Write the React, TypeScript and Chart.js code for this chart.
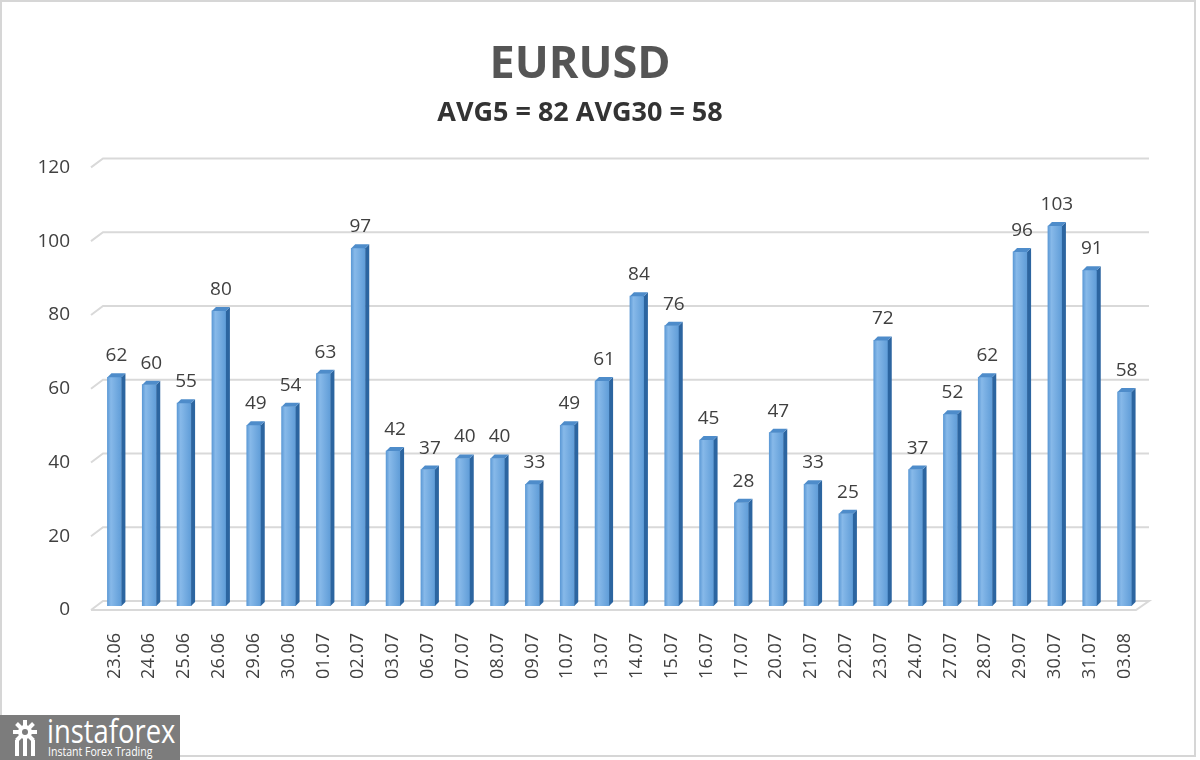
import React, { useEffect, useRef } from "react";
import { Chart, registerables } from "chart.js";

Chart.register(...registerables);

const categories = [
  "23.06", "24.06", "25.06", "26.06", "29.06", "30.06", "01.07", "02.07", "03.07", "06.07",
  "07.07", "08.07", "09.07", "10.07", "13.07", "14.07", "15.07", "16.07", "17.07", "20.07",
  "21.07", "22.07", "23.07", "24.07", "27.07", "28.07", "29.07", "30.07", "31.07", "03.08",
];
const values = [
  62, 60, 55, 80, 49, 54, 63, 97, 42, 37,
  40, 40, 33, 49, 61, 84, 76, 45, 28, 47,
  33, 25, 72, 37, 52, 62, 96, 103, 91, 58,
];
const yTicks = [0, 20, 40, 60, 80, 100, 120];
const titleText = "EURUSD";
const subtitleText = "AVG5 = 82 AVG30 = 58";

const FONT = "'Open Sans', 'DejaVu Sans', sans-serif";
const DEPTH = 4;

const gridPlugin = {
  id: "grid3d",
  beforeDatasetsDraw(chart: any) {
    const { ctx, chartArea } = chart;
    const y = chart.scales.y;
    const left = chartArea.left;
    const right = chartArea.right;
    ctx.save();
    ctx.strokeStyle = "#d9d9d9";
    ctx.lineWidth = 2;
    for (const v of yTicks) {
      const yp = y.getPixelForValue(v);
      ctx.beginPath();
      ctx.moveTo(left - 6, yp + 4);
      ctx.lineTo(left + 6, yp - 5);
      ctx.lineTo(right + 7, yp - 5);
      if (v === 0) {
        ctx.lineTo(right - 6, yp + 4);
        ctx.lineTo(left - 6, yp + 4);
      }
      ctx.stroke();
    }
    ctx.restore();
  },
  afterDatasetsDraw(chart: any) {
    const { ctx } = chart;
    const meta = chart.getDatasetMeta(0);
    ctx.save();
    meta.data.forEach((bar: any, i: number) => {
      const w = bar.width;
      const x0 = bar.x - w / 2;
      const x1 = bar.x + w / 2;
      const top = bar.y;
      const base = bar.base;
      ctx.fillStyle = "#2c65a0";
      ctx.beginPath();
      ctx.moveTo(x1, top);
      ctx.lineTo(x1 + DEPTH, top - DEPTH);
      ctx.lineTo(x1 + DEPTH, base - DEPTH);
      ctx.lineTo(x1, base);
      ctx.closePath();
      ctx.fill();
      ctx.fillStyle = "#4e8cca";
      ctx.beginPath();
      ctx.moveTo(x0, top);
      ctx.lineTo(x0 + DEPTH, top - DEPTH);
      ctx.lineTo(x1 + DEPTH, top - DEPTH);
      ctx.lineTo(x1, top);
      ctx.closePath();
      ctx.fill();
      ctx.fillStyle = "#404040";
      ctx.font = `19px ${FONT}`;
      ctx.textAlign = "center";
      ctx.textBaseline = "alphabetic";
      ctx.fillText(String(values[i]), bar.x + 2, top - 16);
    });
    ctx.restore();
  },
};

export default function App() {
  const canvasRef = useRef<HTMLCanvasElement | null>(null);

  useEffect(() => {
    document.body.style.margin = "0";
    document.body.style.background = "#ffffff";
    const canvas = canvasRef.current;
    if (!canvas) return;
    const chart = new Chart(canvas, {
      type: "bar",
      data: {
        labels: categories,
        datasets: [
          {
            data: values,
            barThickness: 14,
            borderWidth: 0,
            backgroundColor: (c: any) => {
              const ch = c.chart;
              const xs = ch.scales && ch.scales.x;
              if (!xs || c.dataIndex === undefined) return "#6aa5dc";
              const cx = xs.getPixelForValue(c.dataIndex);
              if (!Number.isFinite(cx)) return "#6aa5dc";
              const g = ch.ctx.createLinearGradient(cx - 7, 0, cx + 7, 0);
              g.addColorStop(0, "#5d9ad6");
              g.addColorStop(0.25, "#87b9e9");
              g.addColorStop(1, "#609dd8");
              return g;
            },
          },
        ],
      },
      options: {
        responsive: false,
        animation: false,
        devicePixelRatio: 1,
        layout: { padding: { left: 18, right: 58, top: 0, bottom: 0 } },
        plugins: {
          legend: { display: false },
          tooltip: { enabled: false },
          title: {
            display: true,
            text: titleText,
            color: "#555555",
            font: { family: FONT, size: 45, weight: "bold", lineHeight: 1.2 },
            padding: { top: 38, bottom: 0 },
          },
          subtitle: {
            display: true,
            text: subtitleText,
            color: "#333333",
            font: { family: FONT, size: 27, weight: "bold", lineHeight: 1.2 },
            padding: { top: 5, bottom: 34 },
          },
        },
        scales: {
          x: {
            grid: { display: false, drawTicks: false },
            border: { display: false },
            ticks: {
              autoSkip: false,
              minRotation: 90,
              maxRotation: 90,
              padding: 27,
              color: "#404040",
              font: { family: FONT, size: 18 },
            },
            afterFit: (s: any) => {
              s.height = 154;
            },
          },
          y: {
            min: 0,
            max: 120,
            grid: { display: false, drawTicks: false },
            border: { display: false },
            ticks: {
              stepSize: 20,
              padding: 27,
              labelOffset: 4,
              color: "#404040",
              font: { family: FONT, size: 19 },
            },
            afterFit: (s: any) => {
              s.width = 79;
            },
          },
        },
      },
      plugins: [gridPlugin],
    } as any);
    return () => chart.destroy();
  }, []);

  return (
    <div style={{ position: "relative", width: 1200, height: 760, overflow: "hidden", background: "#fff" }}>
      <canvas ref={canvasRef} width={1200} height={760} style={{ position: "absolute", left: 0, top: 0 }} />
      <div
        style={{
          position: "absolute",
          left: 0,
          top: 0,
          width: 1192,
          height: 753,
          border: "2px solid #d6d6d6",
          pointerEvents: "none",
        }}
      />
      <div
        style={{
          position: "absolute",
          left: 0,
          top: 715,
          width: 180,
          height: 45,
          background: "#7c7c7c",
          color: "#ffffff",
          fontFamily: FONT,
          overflow: "hidden",
        }}
      >
        <svg width="40" height="40" viewBox="0 0 40 40" style={{ position: "absolute", left: 5, top: 3 }}>
          <g fill="#ffffff">
            <circle cx="20" cy="14" r="7" />
            {[0, 45, 90, 135, 180, 225, 270, 315].map((a) => (
              <rect key={a} x="18" y="2" width="4" height="6" transform={`rotate(${a} 20 14)`} />
            ))}
            <rect x="10" y="22" width="4" height="16" />
            <rect x="26" y="22" width="4" height="16" />
            <rect x="18" y="22" width="4" height="16" />
          </g>
          <circle cx="20" cy="14" r="3" fill="#7c7c7c" />
        </svg>
        <div
          style={{
            position: "absolute",
            left: 47,
            top: -3,
            fontSize: 33,
            lineHeight: "38px",
            transformOrigin: "0 0",
            transform: "scaleX(0.83)",
            whiteSpace: "nowrap",
          }}
        >
          instaforex
        </div>
        <div
          style={{
            position: "absolute",
            left: 48,
            top: 29,
            fontSize: 13.5,
            lineHeight: "15px",
            transformOrigin: "0 0",
            transform: "scaleX(0.78)",
            whiteSpace: "nowrap",
          }}
        >
          Instant Forex Trading
        </div>
      </div>
    </div>
  );
}
